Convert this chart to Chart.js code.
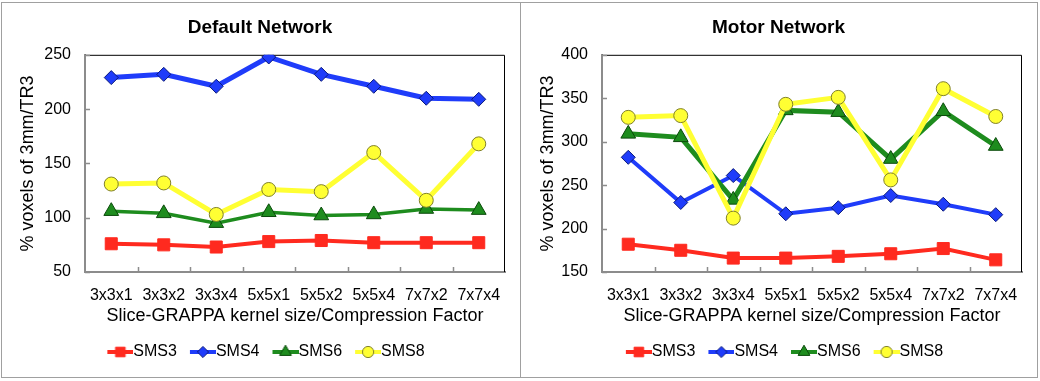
<!DOCTYPE html>
<html>
<head>
<meta charset="UTF-8">
<title>Default / Motor Network</title>
<style>
    body { margin: 0; background: #fff; }
    #wrap { position: relative; width: 1040px; height: 381px; overflow: hidden; }
    .frame { position: absolute; left: 1px; top: 2px; width: 1035px; height: 374px; border: 1px solid #a0a0a0; }
    .divider { position: absolute; left: 520px; top: 2px; width: 1px; height: 376px; background: #a0a0a0; }
    canvas { position: absolute; top: 0; }
</style>
<script src="https://cdn.jsdelivr.net/npm/chart.js"></script>
</head>
<body>
<div id="wrap">
    <div class="frame"></div>
    <div class="divider"></div>
    <canvas id="defaultChart" width="519" height="381" style="left:0"></canvas>
    <canvas id="motorChart" width="519" height="381" style="left:520px"></canvas>
</div>
<script>
    // data
    const categories = ['3x3x1', '3x3x2', '3x3x4', '5x5x1', '5x5x2', '5x5x4', '7x7x2', '7x7x4'];
    const seriesNames = ['SMS3', 'SMS4', 'SMS6', 'SMS8'];

    const defaultSms3 = [76, 75, 73, 78, 79, 77, 77, 77];
    const defaultSms4 = [229, 232, 221, 248, 232, 221, 210, 209];
    const defaultSms6 = [106, 104, 95, 105, 102, 103, 108, 107];
    const defaultSms8 = [131, 132, 103, 126, 124, 160, 116, 168];

    const motorSms3 = [182, 175, 166, 166, 168, 171, 177, 164];
    const motorSms4 = [282, 230, 261, 217, 224, 238, 228, 216];
    const motorSms6 = [309, 305, 233, 336, 334, 280, 335, 295];
    const motorSms8 = [328, 330, 212, 343, 351, 256, 361, 329];

    const defaultTicks = [50, 100, 150, 200, 250];
    const motorTicks = [150, 200, 250, 300, 350, 400];

    const xTitle = 'Slice-GRAPPA kernel size/Compression Factor';
    const yTitle = '% voxels of 3mm/TR3';

    Chart.defaults.font.family = "'Liberation Sans', Arial, sans-serif";
    Chart.defaults.color = '#000';

    const looks = [
        { color: '#ff2a1f', edge: '#ff2a1f', shape: 'rect', size: 8.5 },
        { color: '#1f3cfa', edge: '#0a1a7a', shape: 'rectRot', size: 7 },
        { color: '#1e8c1e', edge: '#0b4a0b', shape: 'triangle', size: 8.5 },
        { color: '#ffff33', edge: '#80802a', shape: 'circle', size: 7 }
    ];

    // legend icon: short line with the marker in the middle
    function legendIcon(look) {
        const c = document.createElement('canvas');
        c.width = 46; c.height = 16;
        const g = c.getContext('2d');
        g.strokeStyle = look.color;
        g.lineWidth = 4;
        g.beginPath(); g.moveTo(20, 8); g.lineTo(46, 8); g.stroke();
        g.fillStyle = look.color;
        g.strokeStyle = look.edge;
        g.lineWidth = 1;
        Chart.helpers.drawPoint(g, { pointStyle: look.shape, radius: look.size * 0.8, borderWidth: 1, rotation: 0 }, 33, 8);
        return c;
    }
    const icons = looks.map(legendIcon);

    // inward tick marks + black top/right frame
    const frameTicks = {
        id: 'frameTicks',
        beforeDatasetsDraw(chart) {
            const { ctx, chartArea: a } = chart;
            const xs = chart.scales.x, ys = chart.scales.y;
            ctx.save();
            ctx.strokeStyle = '#000';
            ctx.lineWidth = 1;
            ctx.beginPath();
            ctx.moveTo(a.left, a.top + 0.5);
            ctx.lineTo(a.right - 0.5, a.top + 0.5);
            ctx.lineTo(a.right - 0.5, a.bottom);
            ctx.stroke();
            ctx.strokeStyle = '#8c8c8c';
            ctx.lineWidth = 1.5;
            ctx.beginPath();
            ys.ticks.forEach(t => {
                const y = Math.round(ys.getPixelForValue(t.value)) + 0.5;
                ctx.moveTo(a.left, y); ctx.lineTo(a.left + 5, y);
            });
            for (let i = 1; i < categories.length; i++) {
                const x = Math.round(xs.getPixelForValue(i - 0.5)) + 0.5;
                ctx.moveTo(x, a.bottom); ctx.lineTo(x, a.bottom - 5);
            }
            ctx.stroke();
            ctx.restore();
        }
    };

    function makeChart(id, title, series, ticks, widths, padLeft, yWidth, padRight) {
        new Chart(document.getElementById(id), {
            type: 'line',
            data: {
                labels: categories,
                datasets: series.map((vals, i) => ({
                    label: seriesNames[i],
                    data: vals,
                    borderColor: looks[i].color,
                    borderWidth: widths[i],
                    pointStyle: looks[i].shape,
                    pointRadius: looks[i].size,
                    pointBackgroundColor: looks[i].color,
                    pointBorderColor: looks[i].edge,
                    pointBorderWidth: 1,
                    tension: 0,
                    order: 4 - i
                }))
            },
            options: {
                responsive: false,
                animation: false,
                layout: { padding: { left: padLeft, right: padRight, top: 0, bottom: 11 } },
                plugins: {
                    title: {
                        display: true, text: title, color: '#000',
                        font: { size: 19, weight: 'bold' },
                        padding: { top: 16, bottom: 16 }
                    },
                    legend: {
                        position: 'bottom',
                        labels: {
                            usePointStyle: true,
                            pointStyleWidth: 30,
                            padding: 1,
                            color: '#000',
                            font: { size: 16 },
                            sort: (a, b) => a.datasetIndex - b.datasetIndex,
                            generateLabels(chart) {
                                const items = Chart.defaults.plugins.legend.labels.generateLabels(chart);
                                items.forEach(it => { it.pointStyle = icons[it.datasetIndex]; });
                                return items;
                            }
                        }
                    },
                    tooltip: { enabled: false }
                },
                scales: {
                    x: {
                        offset: true,
                        grid: { display: false, drawTicks: false, offset: true },
                        border: { color: '#8c8c8c', width: 2 },
                        ticks: { font: { size: 16 }, padding: 14, maxRotation: 0, autoSkip: false, color: '#000' },
                        title: { display: true, text: xTitle, font: { size: 18 }, padding: { top: 4, bottom: 16 }, color: '#000' },
                        afterFit(s) { s.height = 71; }
                    },
                    y: {
                        min: ticks[0],
                        max: ticks[ticks.length - 1],
                        grid: { display: false, drawTicks: false },
                        border: { color: '#8c8c8c', width: 2 },
                        ticks: { stepSize: ticks[1] - ticks[0], font: { size: 16 }, padding: 14, color: '#000' },
                        title: { display: true, text: yTitle, font: { size: 18 }, padding: { top: 2, bottom: 0 }, color: '#000' },
                        afterFit(s) { s.width = yWidth; }
                    }
                }
            },
            plugins: [frameTicks]
        });
    }

    makeChart('defaultChart', 'Default Network',
        [defaultSms3, defaultSms4, defaultSms6, defaultSms8], defaultTicks,
        [4, 5, 3.5, 5], 15, 70, 14);
    makeChart('motorChart', 'Motor Network',
        [motorSms3, motorSms4, motorSms6, motorSms8], motorTicks,
        [4, 4, 5, 5], 15, 67, 17);
</script>
</body>
</html>
